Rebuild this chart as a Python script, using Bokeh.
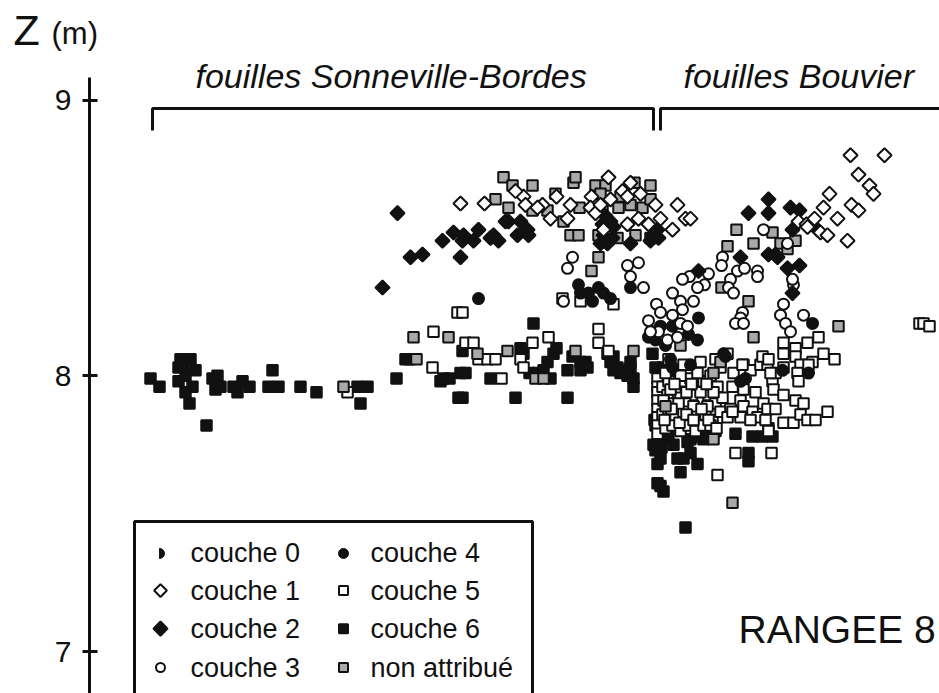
import numpy as np
from bokeh.plotting import figure
from bokeh.models import Range1d, FixedTicker, Label
from bokeh.embed import file_html
from bokeh.resources import INLINE

# ---------------- data (x: metres along the row, z: altitude in metres) ----------------
c6_x = [0.61,0.70,0.91,1.01,0.89,1.06,0.96,0.89,1.03,0.96,0.94,1.00,1.17,1.23,1.28,1.26,1.31,1.44,1.53,1.48,1.60,1.83,1.79,1.89,2.11,2.27,2.68,2.71,2.78,3.07,
        3.16,3.20,3.51,3.54,3.60,3.71,3.76,3.69,3.73,3.73,4.01,4.26,4.31,4.34,4.44,4.40,4.48,4.54,4.58,4.64,4.67,4.61,4.78,4.78,4.83,4.91,4.96,4.91,4.98,
        5.18,5.21,5.24,5.28,5.31,5.34,5.38,5.41,5.44,5.44,5.24,5.41,
        5.63,5.66,5.73,5.81,5.88,5.69,5.74,5.84,5.66,5.71,5.68,5.88,5.94,6.01,6.08,5.91,5.68,5.71,5.74,5.96,6.11,6.18,6.11,6.21,6.46,6.59,6.59,6.63,6.73,6.83,6.79,5.66,5.79,6.01,6.26,
        5.64,5.65,5.72,5.98,6.14]
c6_z = [7.99,7.96,8.06,8.06,8.03,8.02,8.00,7.98,7.96,7.94,8.04,7.90,7.82,7.99,8.00,7.95,7.96,7.96,7.98,7.94,7.96,8.02,7.96,7.96,7.96,7.94,7.96,7.90,7.96,7.99,
        8.06,8.06,7.98,7.99,7.99,8.01,8.01,7.92,7.92,8.09,7.99,7.92,8.10,8.08,8.19,8.01,8.01,8.02,8.05,8.08,8.10,7.99,8.02,7.92,8.07,8.05,8.05,8.02,8.03,
        8.08,8.05,8.02,8.03,8.01,8.02,8.00,8.03,7.99,7.96,8.07,8.05,
        8.08,8.03,8.03,8.03,8.02,7.78,7.77,7.75,7.73,7.70,7.68,7.70,7.70,7.72,7.68,7.65,7.61,7.60,7.58,7.45,7.80,7.79,7.78,7.78,7.79,7.72,7.69,7.78,7.78,7.78,7.81,7.82,7.79,7.77,7.80,
        7.75,7.84,7.74,7.76,7.77]

c5_x = [2.58,3.68,3.73,3.44,3.76,3.84,3.43,3.89,3.98,4.06,4.12,4.43,4.31,4.34,4.59,5.09,5.09,5.19,4.73,4.91,5.24,
        5.68,5.68,5.68,5.68,5.68,5.68,5.68,5.68,
        5.73,5.79,5.86,5.93,6.01,6.08,6.14,6.21,6.28,5.78,5.84,5.91,5.99,6.06,6.13,6.19,6.26,6.33,5.73,5.79,5.86,5.94,6.01,6.08,6.16,6.23,6.31,
        5.76,5.83,5.91,5.99,6.06,6.14,6.21,5.76,5.91,6.08,6.21,5.94,6.11,6.26,5.79,6.31,
        5.74,5.81,5.89,5.97,6.04,6.11,6.18,6.24,5.75,5.82,5.90,5.97,6.04,6.12,6.19,6.27,5.85,6.02,6.17,
        6.94,6.94,7.06,7.06,7.18,7.29,7.34,7.45,7.23,7.11,7.08,7.09,6.83,6.84,6.94,7.06,7.14,6.44,6.43,6.54,6.61,6.71,6.78,6.86,6.94,
        6.51,6.54,6.63,6.68,6.74,6.78,6.86,6.76,6.79,6.94,7.04,7.11,7.18,7.26,7.38,6.41,6.38,6.51,6.61,6.46,6.82,6.28,6.53,6.73,6.79,6.81,
        6.54,6.43,6.66,6.38,7.19,8.30,8.34,8.40]
c5_z = [7.94,8.23,8.23,8.16,8.12,8.12,8.03,8.06,8.06,8.06,7.99,8.12,8.06,8.03,8.14,8.17,8.12,8.09,8.28,8.27,8.26,
        7.99,7.96,7.94,7.91,7.88,7.85,7.82,7.79,
        7.96,7.98,7.95,7.98,7.99,7.96,7.98,7.95,7.96,7.93,7.90,7.92,7.90,7.93,7.91,7.93,7.90,7.92,7.86,7.88,7.85,7.87,7.84,7.87,7.86,7.84,7.87,
        7.81,7.82,7.80,7.82,7.80,7.82,7.82,8.01,8.00,8.01,8.00,8.04,8.05,8.06,8.06,8.03,
        7.91,7.95,7.90,7.94,7.89,7.94,7.89,7.94,7.84,7.88,7.83,7.86,7.84,7.88,7.84,7.81,7.97,7.97,7.97,
        8.12,8.08,8.10,8.07,8.12,8.14,8.08,8.06,8.05,8.04,8.01,7.98,7.98,7.95,7.93,7.91,7.90,8.01,7.96,8.04,8.02,8.04,8.04,8.01,8.03,
        7.91,7.89,7.87,7.85,7.90,7.88,7.88,7.84,7.80,7.83,7.83,7.86,7.84,7.84,7.87,7.88,7.85,7.85,7.84,7.72,7.72,7.64,8.04,8.07,8.06,8.01,
        7.95,7.87,7.94,8.08,8.04,8.19,8.19,8.18]

na_x = [2.54,3.24,3.27,3.59,3.88,4.18,4.86,5.44,4.46,4.54,4.14,4.23,4.43,4.06,4.19,4.43,4.58,4.66,4.84,4.86,5.06,5.16,5.11,5.45,5.61,
        4.90,5.13,5.29,5.41,5.53,5.61,4.74,4.81,4.89,5.09,5.28,5.46,5.61,5.09,5.02,5.31,
        6.47,6.38,6.64,6.83,6.91,6.98,7.06,6.32,6.59,7.49,6.64,5.91,6.31,6.24,5.76,6.24,6.43]
na_z = [7.96,8.14,8.06,8.14,8.08,8.09,8.09,8.09,7.99,7.99,8.72,8.69,8.69,8.64,8.61,8.60,8.60,8.66,8.70,8.72,8.69,8.69,8.66,8.70,8.69,
        8.61,8.61,8.61,8.62,8.61,8.64,8.56,8.51,8.51,8.51,8.50,8.51,8.50,8.43,8.38,8.65,
        8.53,8.47,8.48,8.52,8.48,8.46,8.49,8.32,8.27,8.18,8.14,8.11,8.05,8.01,7.89,7.77,7.54]

c1_x = [3.71,3.95,4.34,4.36,4.53,4.48,4.61,4.67,4.81,4.78,5.02,5.01,5.06,5.21,5.19,5.33,5.38,5.41,5.49,5.59,5.66,5.14,5.38,5.11,4.26,5.51,
        5.71,5.88,5.96,6.01,5.83,7.09,7.17,7.25,7.34,7.40,7.48,7.62,7.69,7.69,7.80,7.84,7.61,7.95,7.31,7.38,7.58,7.18]
c1_z = [8.625,8.625,8.65,8.62,8.62,8.61,8.57,8.65,8.62,8.57,8.65,8.61,8.59,8.64,8.72,8.67,8.65,8.70,8.57,8.55,8.62,8.53,8.55,8.62,8.67,8.66,
        8.57,8.62,8.57,8.57,8.53,8.56,8.55,8.57,8.61,8.66,8.57,8.62,8.60,8.73,8.69,8.66,8.80,8.80,8.52,8.51,8.49,8.54]

c2_x = [3.08,2.93,3.21,3.33,3.53,3.64,3.74,3.73,3.84,3.89,4.01,4.04,4.09,3.71,4.28,4.31,4.38,4.39,4.19,4.16,
        5.13,5.21,5.24,5.11,5.18,5.41,5.61,5.64,5.68,5.16,5.14,5.23,
        6.59,6.79,6.79,7.01,7.10,7.03,7.28,6.51,6.79,6.88,6.86,6.98,7.10,7.03,6.09,5.69]
c2_z = [8.59,8.32,8.43,8.44,8.49,8.52,8.51,8.49,8.49,8.53,8.50,8.51,8.49,8.43,8.51,8.56,8.53,8.51,8.56,8.56,
        8.55,8.56,8.54,8.48,8.48,8.48,8.49,8.51,8.53,8.58,8.51,8.50,
        8.59,8.64,8.59,8.61,8.60,8.53,8.53,8.43,8.44,8.43,8.44,8.39,8.40,8.30,8.38,8.50]

c3_x = [4.83,4.78,5.38,5.49,5.41,5.54,4.74,
        6.74,6.98,6.33,6.32,6.48,6.55,6.68,6.68,6.19,6.15,6.08,6.00,5.93,6.41,6.39,6.44,5.83,5.91,5.93,6.04,5.83,5.91,5.98,
        5.69,5.78,5.88,7.04,7.03,6.94,6.91,6.96,7.01,7.14,6.53,6.51,6.46,6.54,5.59,5.67,5.71,5.61]
c3_z = [8.43,8.39,8.40,8.41,8.36,8.32,8.27,
        8.53,8.48,8.43,8.40,8.38,8.39,8.38,8.36,8.37,8.33,8.32,8.36,8.35,8.35,8.32,8.30,8.30,8.27,8.24,8.27,8.22,8.19,8.18,
        8.16,8.13,8.14,8.33,8.35,8.26,8.22,8.19,8.16,8.22,8.23,8.21,8.19,8.19,8.20,8.26,8.23,8.16]

c4_x = [3.89,4.89,5.09,5.41,4.91,4.99,5.21,5.03,5.14,
        6.09,7.23,5.83,5.99,6.08,5.81,6.01,6.34,6.36,5.83,6.51,6.56,6.93,7.19,5.63,5.71,5.59,5.76,5.66]
c4_z = [8.28,8.33,8.32,8.32,8.30,8.30,8.28,8.27,8.30,
        8.21,8.19,8.18,8.15,8.13,8.06,8.04,8.08,8.07,8.03,7.98,7.99,8.02,8.01,8.16,8.18,8.14,8.11,8.13]

z_ticks = [7, 8, 9]
legend_labels = ["couche 0", "couche 1", "couche 2", "couche 3",
                 "couche 4", "couche 5", "couche 6", "non attribué"]
headers = ["fouilles Sonneville-Bordes", "fouilles Bouvier"]
title_text = "RANGEE 8"

# ---------------- figure ----------------
FONT = "Liberation Sans"
INK = "#111111"
GREY = "#a9a9a9"

p = figure(width=939, height=693, output_backend="svg", toolbar_location=None,
           x_range=Range1d(-0.89, 8.50), y_range=Range1d(6.8477, 9.3613),
           x_axis_location=None, y_axis_location="left",
           min_border_left=0, min_border_right=0, min_border_top=0, min_border_bottom=0)
p.outline_line_color = None
p.grid.visible = False
p.background_fill_color = "white"
p.border_fill_color = "white"

ax = p.yaxis[0]
ax.fixed_location = 0
ax.ticker = FixedTicker(ticks=z_ticks)
ax.bounds = (6.5, 9.082)
ax.axis_line_width = 3
ax.axis_line_color = INK
ax.major_tick_line_width = 3
ax.major_tick_line_color = INK
ax.major_tick_in = 8
ax.major_tick_out = 7
ax.minor_tick_line_color = None
ax.major_label_text_font = FONT
ax.major_label_text_font_size = "30px"
ax.major_label_text_color = INK
ax.major_label_standoff = 11

# ---------------- points ----------------
sq = dict(marker="square", size=10.5, line_width=2, line_color=INK)
p.scatter(c6_x, c6_z, fill_color=INK, **sq)
p.scatter(c5_x, c5_z, fill_color="white", **sq)
p.scatter(na_x, na_z, fill_color=GREY, **sq)
p.scatter(c4_x, c4_z, marker="circle", size=11, line_width=2, line_color=INK, fill_color=INK)
p.scatter(c3_x, c3_z, marker="circle", size=11, line_width=2, line_color=INK, fill_color="white")
p.scatter(c2_x, c2_z, marker="square", angle=np.pi / 4, size=10, line_width=2, line_color=INK, fill_color=INK)
p.scatter(c1_x, c1_z, marker="square", angle=np.pi / 4, size=10, line_width=2, line_color=INK, fill_color="white")

# ---------------- brackets & headers ----------------
p.line([0.63, 0.63, 5.64, 5.64], [8.890, 8.9695, 8.9695, 8.890], line_width=3, line_color=INK)
p.line([5.71, 5.71, 8.70], [8.890, 8.9695, 8.9695], line_width=3, line_color=INK)
txt = dict(text_font=FONT, text_color=INK, text_baseline="bottom")
p.add_layout(Label(x=1.06, y=9.0185, text=headers[0], text_font_style="italic", text_font_size="34px", **txt))
p.add_layout(Label(x=5.94, y=9.0185, text=headers[1], text_font_style="italic", text_font_size="34px", **txt))

p.add_layout(Label(x=-0.76, y=9.168, text="Z", text_font_size="43px", **txt))
p.add_layout(Label(x=-0.38, y=9.177, text="(m)", text_font_size="31px", **txt))

p.add_layout(Label(x=6.49, y=7.002, text=title_text, text_font_size="39px", **txt))

# ---------------- legend box ----------------
p.quad(left=[0.45], right=[4.43], top=[7.4715], bottom=[6.70], fill_color="white",
       line_color=INK, line_width=3)
row_z = [7.3555, 7.221, 7.083, 6.942]
mx1, mx2, tx1, tx2 = 0.71, 2.54, 1.01, 2.81
p.wedge(x=[mx1 - 0.01], y=[row_z[0]], radius=5, radius_units="screen",
        start_angle=-np.pi / 2, end_angle=np.pi / 2, fill_color=INK, line_color=INK)
p.scatter([mx1], [row_z[1]], marker="square", angle=np.pi / 4, size=9, line_width=2, line_color=INK, fill_color="white")
p.scatter([mx1], [row_z[2]], marker="square", angle=np.pi / 4, size=10, line_width=2, line_color=INK, fill_color=INK)
p.scatter([mx1], [row_z[3]], marker="circle", size=9, line_width=2, line_color=INK, fill_color="white")
p.scatter([mx2], [row_z[0]], marker="circle", size=10, line_width=1, line_color=INK, fill_color=INK)
p.scatter([mx2], [row_z[1]], marker="square", size=9, line_width=2, line_color=INK, fill_color="white")
p.scatter([mx2], [row_z[2]], marker="square", size=9, line_width=2, line_color=INK, fill_color=INK)
p.scatter([mx2], [row_z[3]], marker="square", size=9, line_width=2, line_color=INK, fill_color=GREY)
for i, lab in enumerate(legend_labels):
    tx = tx1 if i < 4 else tx2
    p.add_layout(Label(x=tx, y=row_z[i % 4], text=lab, text_font=FONT, text_font_size="27px",
                       text_color=INK, text_baseline="middle"))

open("out.html", "w").write(file_html(p, INLINE))
